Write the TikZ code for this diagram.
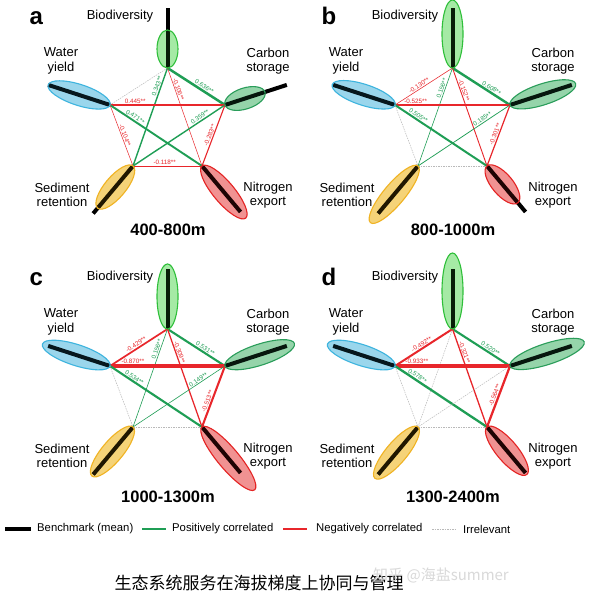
\documentclass[tikz,border=0pt]{standalone}
\usepackage{fontspec}
\setmainfont{Liberation Sans}
\newfontfamily\cjk{Noto Sans CJK SC}
\usetikzlibrary{shapes.geometric}

\definecolor{posgreen}{HTML}{1F9E55}
\definecolor{negred}{HTML}{E8262B}
% C = tint over the bar, A = light fill, L = outline
\definecolor{bioC}{HTML}{3CC83C}\definecolor{bioA}{HTML}{B8F0B8}\definecolor{bioL}{HTML}{2FBF3A}
\definecolor{carC}{HTML}{2A9D5A}\definecolor{carA}{HTML}{A8DEB9}\definecolor{carL}{HTML}{2A9D5A}
\definecolor{watC}{HTML}{2E9CC8}\definecolor{watA}{HTML}{AEE1F3}\definecolor{watL}{HTML}{3EB4DE}
\definecolor{sedC}{HTML}{D9A000}\definecolor{sedA}{HTML}{FADD8E}\definecolor{sedL}{HTML}{F0B323}
\definecolor{nitC}{HTML}{D42020}\definecolor{nitA}{HTML}{F7A6A6}\definecolor{nitL}{HTML}{E42323}

% pentagon corners and service names of one panel
\newcommand{\skeleton}{%
  \coordinate (bio) at (167.5,531);
  \coordinate (car) at (225,494);
  \coordinate (wat) at (110,494);
  \coordinate (sed) at (133,433);
  \coordinate (nit) at (202,433);
  \node[svctext] (bio-t) at (120,583) {Biodiversity};
  \node[svctext] (wat-t) at (61,538) {Water\\yield};
  \node[svctext] (car-t) at (268,538) {Carbon\\storage};
  \node[svctext] (sed-t) at (62,404) {Sediment\\retention};
  \node[svctext] (nit-t) at (268,404) {Nitrogen\\export};
}
% benchmark bar + ellipse: corner, angle, ellipse length, bar length
\newcommand{\service}[4]{%
  \path (#1) ++(#2:#3/2) node[svc,fill=#1A,minimum width=#3pt,rotate=#2] (#1-u) {};
  \draw[bench] (#1) -- ++(#2:#4);
  \path (#1) ++(#2:#3/2) node[svc,draw=#1L,fill=#1C,fill opacity=.15,minimum width=#3pt,rotate=#2] (#1-e) {};
}

\begin{document}
\begin{tikzpicture}[
    x=1pt,y=1pt,
    svctext/.style={font=\fontsize{13}{14.5}\selectfont,align=center},
    letter/.style={font=\fontsize{24}{24}\selectfont\bfseries,anchor=base west},
    title/.style={font=\fontsize{16.5}{16.5}\selectfont\bfseries},
    legtext/.style={font=\fontsize{11.3}{12}\selectfont,anchor=west,inner sep=0pt},
    svc/.style={ellipse,inner sep=0pt,minimum height=21pt,line width=1.1pt},
    bench/.style={line width=4pt,black},
    posc/.style={draw=posgreen,line width=#1pt},
    negc/.style={draw=negred,line width=#1pt},
    irr/.style={draw=gray!55,line width=.5pt,dash pattern=on 1.5pt off 1pt},
    lab/.style={font=\fontsize{6.3}{7}\selectfont,sloped,above,inner sep=.8pt},
    ]
  \fill[white] (0,0) rectangle (604,599);
  \useasboundingbox (0,0) rectangle (604,599);

  % a
  \begin{scope}
    \skeleton
    \node[letter] (la) at (26,574) {a};
    \node[title] (ta) at (168,369) {400-800m};
    \draw[irr] (bio) -- (wat);
    \draw[posc=2.5] (bio) -- node[lab,pos=.6,text=posgreen]{0.636**} (car);
    \draw[posc=1.4] (bio) -- node[lab,pos=.2,text=posgreen]{0.343**} (sed);
    \draw[negc=.5] (bio) -- node[lab,pos=.23,text=negred]{-0.106**} (nit);
    \draw[negc=1.8] (wat) -- node[lab,pos=.22,text=negred]{0.445**} (car);
    \draw[posc=1.9] (wat) -- node[lab,pos=.25,text=posgreen]{0.471**} (nit);
    \draw[negc=.5] (wat) -- node[lab,pos=.52,text=negred]{-0.104**} (sed);
    \draw[posc=1.4] (car) -- node[lab,pos=.25,text=posgreen]{0.359**} (sed);
    \draw[negc=1.1] (car) -- node[lab,pos=.52,text=negred]{-0.283**} (nit);
    \draw[negc=.5] (sed) -- node[lab,pos=.46,text=negred]{-0.118**} (nit);
    \service{bio}{90}{38}{60}
    \service{car}{18}{42}{65}
    \service{wat}{162}{65}{65}
    \service{sed}{230}{55}{62}
    \service{nit}{310}{68}{60}
  \end{scope}

  % b
  \begin{scope}[xshift=285pt]
    \skeleton
    \node[letter] (lb) at (33,574) {b};
    \node[title] (tb) at (168,369) {800-1000m};
    \draw[negc=.55] (bio) -- node[lab,pos=.55,text=negred]{-0.130**} (wat);
    \draw[posc=2.4] (bio) -- node[lab,pos=.64,text=posgreen]{0.608**} (car);
    \draw[posc=.6] (bio) -- node[lab,pos=.22,text=posgreen]{0.156**} (sed);
    \draw[negc=.9] (bio) -- node[lab,pos=.24,text=negred]{-0.152**} (nit);
    \draw[negc=2.1] (wat) -- node[lab,pos=.18,text=negred]{-0.525**} (car);
    \draw[posc=2] (wat) -- node[lab,pos=.23,text=posgreen]{0.505**} (nit);
    \draw[irr] (wat) -- (sed);
    \draw[posc=.75] (car) -- node[lab,pos=.28,text=posgreen]{0.185**} (sed);
    \draw[negc=1.2] (car) -- node[lab,pos=.5,text=negred]{-0.301**} (nit);
    \draw[irr] (sed) -- (nit);
    \service{bio}{90}{68}{60}
    \service{car}{18}{69}{65}
    \service{wat}{162}{66}{65}
    \service{sed}{230}{74}{62}
    \service{nit}{310}{48}{60}
  \end{scope}

  % c
  \begin{scope}[yshift=-261pt]
    \skeleton
    \node[letter] (lc) at (26,574) {c};
    \node[title] (tc) at (168,363) {1000-1300m};
    \draw[negc=1.7] (bio) -- node[lab,pos=.51,text=negred]{-0.429**} (wat);
    \draw[posc=2.1] (bio) -- node[lab,pos=.62,text=posgreen]{0.531**} (car);
    \draw[posc=.6] (bio) -- node[lab,pos=.22,text=posgreen]{0.156**} (sed);
    \draw[negc=1.25] (bio) -- node[lab,pos=.25,text=negred]{-0.309**} (nit);
    \draw[negc=3.5] (wat) -- node[lab,pos=.2,text=negred]{-0.870**} (car);
    \draw[posc=2.1] (wat) -- node[lab,pos=.24,text=posgreen]{0.534**} (nit);
    \draw[irr] (wat) -- (sed);
    \draw[posc=.6] (car) -- node[lab,pos=.27,text=posgreen]{0.149**} (sed);
    \draw[negc=2.05] (car) -- node[lab,pos=.6,text=negred]{-0.513**} (nit);
    \draw[irr] (sed) -- (nit);
    \service{bio}{90}{65}{60}
    \service{car}{18}{73}{65}
    \service{wat}{162}{71}{65}
    \service{sed}{230}{64}{62}
    \service{nit}{310}{82}{60}
  \end{scope}

  % d
  \begin{scope}[xshift=285pt,yshift=-261pt]
    \skeleton
    \node[letter] (ld) at (33,574) {d};
    \node[title] (td) at (168,363) {1300-2400m};
    \draw[negc=2] (bio) -- node[lab,pos=.5,text=negred]{-0.492**} (wat);
    \draw[posc=2.1] (bio) -- node[lab,pos=.62,text=posgreen]{0.520**} (car);
    \draw[irr] (bio) -- (sed);
    \draw[negc=1.3] (bio) -- node[lab,pos=.25,text=negred]{-0.321**} (nit);
    \draw[negc=3.7] (wat) -- node[lab,pos=.19,text=negred]{-0.933**} (car);
    \draw[posc=2.3] (wat) -- node[lab,pos=.22,text=posgreen]{0.578**} (nit);
    \draw[irr] (wat) -- (sed);
    \draw[irr] (car) -- (sed);
    \draw[negc=2.25] (car) -- node[lab,pos=.5,text=negred]{-0.564**} (nit);
    \draw[irr] (sed) -- (nit);
    \service{bio}{90}{76}{60}
    \service{car}{18}{78}{65}
    \service{wat}{162}{71}{65}
    \service{sed}{230}{67}{62}
    \service{nit}{310}{62}{60}
  \end{scope}

  % legend
  \draw[bench] (5,70) -- ++(26,0);
  \node[legtext] (lg1) at (37,70) {Benchmark (mean)};
  \draw[posc=2.5] (142,70) -- ++(24,0);
  \node[legtext] (lg2) at (172,70) {Positively correlated};
  \draw[negc=2.5] (283,70) -- ++(24,0);
  \node[legtext] (lg3) at (316,70) {Negatively correlated};
  \draw[irr] (432,70) -- ++(24,0);
  \node[legtext] (lg4) at (463,70) {Irrelevant};

  \node[font=\cjk\fontsize{17}{17}\selectfont] (cap) at (259,16) {生态系统服务在海拔梯度上协同与管理};
  \node[font=\cjk\fontsize{15}{15}\selectfont,text=black!15] (wm) at (441,24) {知乎 @海盐summer};
\end{tikzpicture}
\end{document}
